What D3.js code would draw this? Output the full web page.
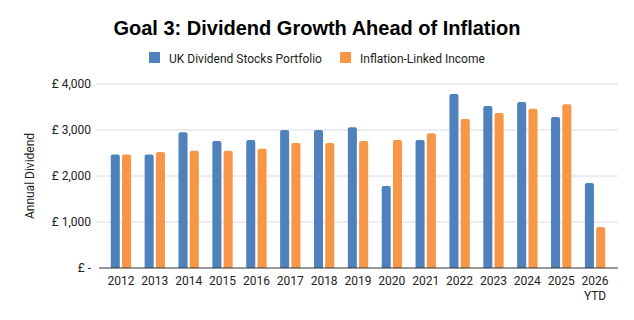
<!DOCTYPE html>
<html lang="en">
<head>
<meta charset="UTF-8">
<title>Goal 3: Dividend Growth Ahead of Inflation</title>
<script src="https://d3js.org/d3.v7.min.js"></script>
<style>
    body { margin: 0; background: #fff; }
    text { font-family: Roboto, "Liberation Sans", Arial, sans-serif; }
</style>
</head>
<body>
<div id="chart"></div>
<script>
    // Data
    const years = ["2012", "2013", "2014", "2015", "2016", "2017", "2018", "2019",
                   "2020", "2021", "2022", "2023", "2024", "2025", "2026 YTD"];
    const portfolio = [2470, 2470, 2950, 2760, 2780, 3000, 3000, 3060,
                       1780, 2780, 3780, 3520, 3610, 3280, 1850];
    const inflation = [2470, 2520, 2550, 2550, 2590, 2720, 2720, 2760,
                       2780, 2930, 3240, 3370, 3460, 3560, 890];
    const seriesNames = ["UK Dividend Stocks Portfolio", "Inflation-Linked Income"];
    const yTicks = [0, 1000, 2000, 3000, 4000];

    const colors = ["#4f81bd", "#f79646"];
    const W = 634, H = 320;
    const margin = {top: 84, right: 22, bottom: 52, left: 104};
    const width = W - margin.left - margin.right,
          height = H - margin.top - margin.bottom;

    const svg = d3.select("#chart").append("svg")
        .attr("width", W).attr("height", H);

    // Title
    svg.append("text")
        .attr("x", 317).attr("y", 35)
        .attr("text-anchor", "middle")
        .style("font-family", "'Liberation Sans', Arial, sans-serif")
        .style("font-weight", "bold")
        .style("font-size", "20px")
        .text("Goal 3: Dividend Growth Ahead of Inflation");

    // Legend
    const legendX = [149, 340];
    const legend = svg.selectAll(".legend").data(seriesNames).enter()
        .append("g")
        .attr("transform", (d, i) => `translate(${legendX[i]},52)`);
    legend.append("rect").attr("width", 11).attr("height", 11).attr("fill", (d, i) => colors[i]);
    legend.append("text").attr("x", 20).attr("y", 11)
        .style("font-size", "12px").attr("fill", "#222").text(d => d);

    const g = svg.append("g").attr("transform", `translate(${margin.left},${margin.top})`);

    const x0 = d3.scaleBand().domain(years).range([0, width]);
    const x1 = d3.scaleBand().domain([0, 1]).range([0, x0.bandwidth()])
        .paddingInner(0.2).paddingOuter(0.6);
    const y = d3.scaleLinear().domain([0, 4000]).range([height, 0]);

    // Gridlines
    g.selectAll(".grid").data(yTicks.filter(d => d > 0)).enter()
        .append("line")
        .attr("x1", -8).attr("x2", width + 6)
        .attr("y1", d => y(d)).attr("y2", d => y(d))
        .attr("stroke", "#dadce5").attr("stroke-width", 1);

    // Y axis labels
    const yAxis = g.append("g")
        .call(d3.axisLeft(y).tickValues(yTicks).tickSize(0).tickPadding(13)
            .tickFormat(d => d === 0 ? "£ -" : "£ " + d3.format(",")(d)));
    yAxis.select(".domain").remove();
    yAxis.selectAll("text").style("font-size", "12px").attr("fill", "#222")
        .style("font-family", "Roboto, sans-serif");

    // Bars
    const data = years.map((yr, i) => ({year: yr, vals: [portfolio[i], inflation[i]]}));
    const grp = g.selectAll(".yr").data(data).enter()
        .append("g").attr("transform", d => `translate(${x0(d.year)},0)`);

    const r = 2;
    grp.selectAll("path").data(d => d.vals.map((v, k) => ({k, v}))).enter()
        .append("path")
        .attr("fill", d => colors[d.k])
        .attr("d", d => {
            const x = x1(d.k), w = x1.bandwidth(), top = y(d.v), b = y(0);
            return `M${x},${b}V${top + r}Q${x},${top} ${x + r},${top}H${x + w - r}Q${x + w},${top} ${x + w},${top + r}V${b}Z`;
        });

    // Baseline
    g.append("line")
        .attr("x1", -5).attr("x2", width + 6)
        .attr("y1", y(0)).attr("y2", y(0))
        .attr("stroke", "#333").attr("stroke-width", 1.2);

    // X labels
    const xl = g.selectAll(".xl").data(years).enter()
        .append("text")
        .attr("x", d => x0(d) + x0.bandwidth() / 2)
        .attr("y", height + 17)
        .attr("text-anchor", "middle")
        .style("font-size", "12px").attr("fill", "#222");
    xl.each(function(d) {
        const parts = d.split(" ");
        d3.select(this).selectAll("tspan").data(parts).enter()
            .append("tspan")
            .attr("x", x0(d) + x0.bandwidth() / 2)
            .attr("dy", (p, i) => i === 0 ? 0 : 15)
            .text(p => p);
    });

    // Y axis title
    svg.append("text")
        .attr("transform", `translate(34,176) rotate(-90)`)
        .attr("text-anchor", "middle")
        .style("font-size", "12px").attr("fill", "#222")
        .text("Annual Dividend");
</script>
</body>
</html>
